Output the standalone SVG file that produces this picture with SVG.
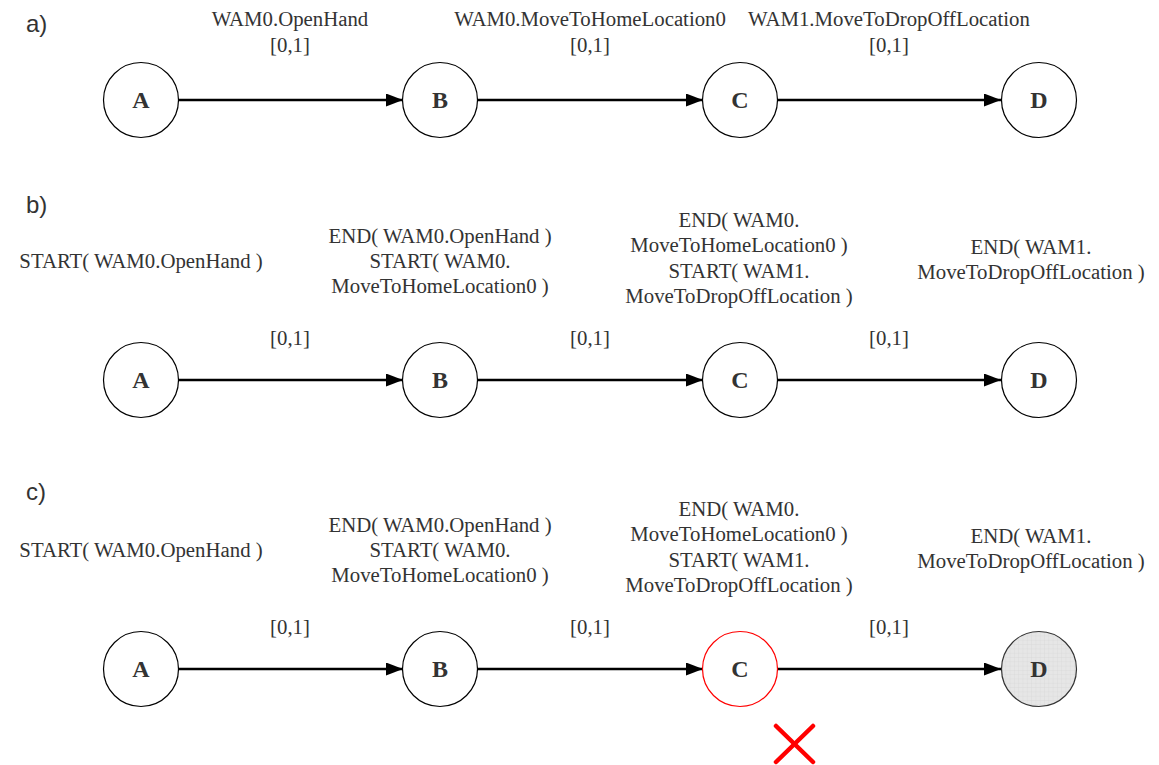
<svg xmlns="http://www.w3.org/2000/svg" width="1159" height="765" viewBox="0 0 1159 765">
  <style>
    .panel { font-family: "Liberation Sans", Arial, sans-serif; font-size: 24px; fill: #333; }
    .lbl { font-family: "Liberation Serif", "Times New Roman", serif; font-size: 20.8px; fill: #333; text-anchor: middle; }
    .node circle { fill: #fff; stroke: #000; stroke-width: 1.2; }
    .node text { font-family: "Liberation Serif", "Times New Roman", serif; font-size: 24px; font-weight: bold; fill: #333; text-anchor: middle; }
    .edge { stroke: #000; stroke-width: 2.5; fill: none; marker-end: url(#arrow); }
  </style>
  <defs>
    <marker id="arrow" viewBox="0 0 17 13" refX="17" refY="6.5" markerWidth="17" markerHeight="13" markerUnits="userSpaceOnUse" orient="auto">
      <path d="M0,0 L17,6.5 L0,13 Z" fill="#000"/>
    </marker>
    <pattern id="grid" width="4.3" height="4.3" patternUnits="userSpaceOnUse">
      <rect width="4.3" height="4.3" fill="#e6e6e6"/>
      <path d="M4.3,0 V4.3 M0,4.3 H4.3" stroke="#d2d2d2" stroke-width="0.6"/>
    </pattern>
  </defs>

  <rect width="1159" height="765" fill="#fff"/>

  <!-- panel captions -->
  <text class="panel" x="26" y="32">a)</text>
  <text class="panel" x="26" y="213">b)</text>
  <text class="panel" x="26" y="500">c)</text>

  <!-- connectors -->
  <g id="connectors">
    <line class="edge" x1="178" y1="100" x2="403" y2="100"/>
    <line class="edge" x1="477" y1="100" x2="703" y2="100"/>
    <line class="edge" x1="777" y1="100" x2="1001" y2="100"/>
    <line class="edge" x1="178" y1="380" x2="403" y2="380"/>
    <line class="edge" x1="477" y1="380" x2="703" y2="380"/>
    <line class="edge" x1="777" y1="380" x2="1001" y2="380"/>
    <line class="edge" x1="178" y1="669" x2="403" y2="669"/>
    <line class="edge" x1="477" y1="669" x2="703" y2="669"/>
    <line class="edge" x1="777" y1="669" x2="1001" y2="669"/>
  </g>

  <!-- connector labels, row a -->
  <g id="labels-a">
    <text class="lbl" x="290" y="26">WAM0.OpenHand</text>
    <text class="lbl" x="290" y="52">[0,1]</text>
    <text class="lbl" x="590" y="26">WAM0.MoveToHomeLocation0</text>
    <text class="lbl" x="590" y="52">[0,1]</text>
    <text class="lbl" x="889" y="26">WAM1.MoveToDropOffLocation</text>
    <text class="lbl" x="889" y="52">[0,1]</text>
  </g>

  <!-- event labels, row b -->
  <g id="labels-b">
    <text class="lbl" x="141" y="268">START( WAM0.OpenHand )</text>
    <text class="lbl" x="440" y="243">END( WAM0.OpenHand )</text>
    <text class="lbl" x="440" y="268">START( WAM0.</text>
    <text class="lbl" x="440" y="293">MoveToHomeLocation0 )</text>
    <text class="lbl" x="739" y="227">END( WAM0.</text>
    <text class="lbl" x="739" y="252">MoveToHomeLocation0 )</text>
    <text class="lbl" x="739" y="278">START( WAM1.</text>
    <text class="lbl" x="739" y="303">MoveToDropOffLocation )</text>
    <text class="lbl" x="1031" y="254">END( WAM1.</text>
    <text class="lbl" x="1031" y="279">MoveToDropOffLocation )</text>
    <text class="lbl" x="290" y="345">[0,1]</text>
    <text class="lbl" x="590" y="345">[0,1]</text>
    <text class="lbl" x="889" y="345">[0,1]</text>
  </g>

  <!-- event labels, row c -->
  <g id="labels-c">
    <text class="lbl" x="141" y="557">START( WAM0.OpenHand )</text>
    <text class="lbl" x="440" y="532">END( WAM0.OpenHand )</text>
    <text class="lbl" x="440" y="557">START( WAM0.</text>
    <text class="lbl" x="440" y="582">MoveToHomeLocation0 )</text>
    <text class="lbl" x="739" y="516">END( WAM0.</text>
    <text class="lbl" x="739" y="541">MoveToHomeLocation0 )</text>
    <text class="lbl" x="739" y="567">START( WAM1.</text>
    <text class="lbl" x="739" y="592">MoveToDropOffLocation )</text>
    <text class="lbl" x="1031" y="543">END( WAM1.</text>
    <text class="lbl" x="1031" y="568">MoveToDropOffLocation )</text>
    <text class="lbl" x="290" y="634">[0,1]</text>
    <text class="lbl" x="590" y="634">[0,1]</text>
    <text class="lbl" x="889" y="634">[0,1]</text>
  </g>

  <!-- nodes, row a -->
  <g id="a-A" class="node"><circle cx="141" cy="100" r="37.5"/><text x="141" y="108">A</text></g>
  <g id="a-B" class="node"><circle cx="440" cy="100" r="37.5"/><text x="440" y="108">B</text></g>
  <g id="a-C" class="node"><circle cx="740" cy="100" r="37.5"/><text x="740" y="108">C</text></g>
  <g id="a-D" class="node"><circle cx="1039" cy="100" r="37.5"/><text x="1039" y="108">D</text></g>

  <!-- nodes, row b -->
  <g id="b-A" class="node"><circle cx="141" cy="380" r="37.5"/><text x="141" y="388">A</text></g>
  <g id="b-B" class="node"><circle cx="440" cy="380" r="37.5"/><text x="440" y="388">B</text></g>
  <g id="b-C" class="node"><circle cx="740" cy="380" r="37.5"/><text x="740" y="388">C</text></g>
  <g id="b-D" class="node"><circle cx="1039" cy="380" r="37.5"/><text x="1039" y="388">D</text></g>

  <!-- nodes, row c -->
  <g id="c-A" class="node"><circle cx="141" cy="669" r="37.5"/><text x="141" y="677">A</text></g>
  <g id="c-B" class="node"><circle cx="440" cy="669" r="37.5"/><text x="440" y="677">B</text></g>
  <g id="c-C" class="node"><circle cx="740" cy="669" r="37.5" style="stroke:#ff0000;stroke-width:1.2"/><text x="740" y="677">C</text></g>
  <g id="c-D" class="node"><circle cx="1039" cy="669" r="37.5" style="fill:url(#grid);stroke:#333"/><text x="1039" y="677">D</text></g>

  <!-- failure mark under C -->
  <g id="fail-mark" stroke="#ff0000" stroke-width="4.5" stroke-linecap="round">
    <line x1="776" y1="726" x2="813" y2="762"/>
    <line x1="813" y1="726" x2="776" y2="762"/>
  </g>
</svg>
